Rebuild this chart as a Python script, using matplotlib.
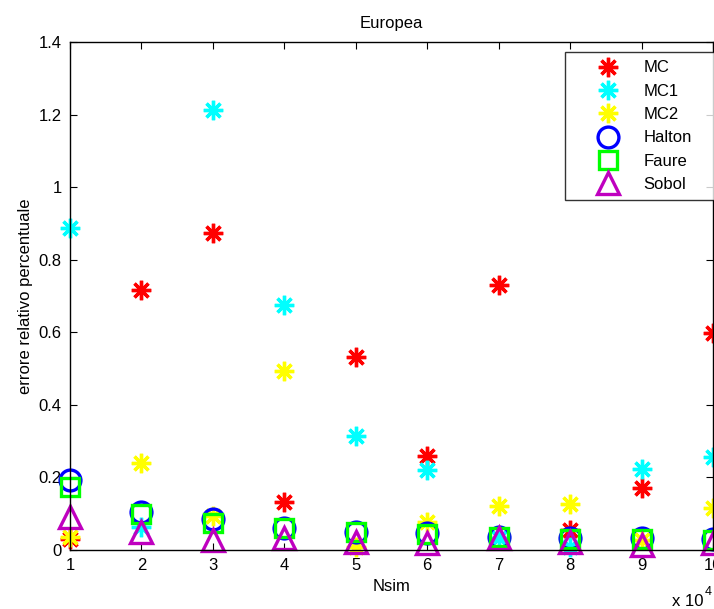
import matplotlib
matplotlib.use("Agg")
import matplotlib.pyplot as plt
import numpy as np

plt.rcParams['font.family'] = ['Liberation Sans', 'DejaVu Sans']

nsim = [1, 2, 3, 4, 5, 6, 7, 8, 9, 10]
mc = [0.03, 0.716, 0.873, 0.132, 0.532, 0.259, 0.730, 0.055, 0.171, 0.598]
mc1 = [0.887, 0.063, 1.212, 0.675, 0.314, 0.220, 0.033, 0.008, 0.223, 0.256]
mc2 = [0.035, 0.240, 0.095, 0.493, 0.008, 0.077, 0.121, 0.127, 0.028, 0.116]
halton = [0.193, 0.105, 0.085, 0.060, 0.050, 0.047, 0.037, 0.033, 0.032, 0.030]
faure = [0.174, 0.100, 0.074, 0.060, 0.050, 0.045, 0.035, 0.030, 0.030, 0.028]
sobol = [0.090, 0.050, 0.028, 0.032, 0.022, 0.020, 0.032, 0.022, 0.014, 0.020]

fig = plt.figure(figsize=(7.14, 6.09), dpi=100)
W, H = 714, 609
AX0, AX1, AY0, AY1 = 70, 713, 42, 550
ax = fig.add_axes([AX0 / W, (H - AY1) / H, (AX1 - AX0) / W, (AY1 - AY0) / H])

star = (8, 2, 0)
kw = dict(linestyle='none', clip_on=False, markeredgewidth=2.4, markerfacecolor='none')
ax.plot(nsim, mc, marker=star, color='#ff0000', markersize=14, label='MC', **kw)
ax.plot(nsim, mc1, marker=star, color='#00ffff', markersize=14, label='MC1', **kw)
ax.plot(nsim, mc2, marker=star, color='#ffff00', markersize=14, label='MC2', **kw)
ax.plot(nsim, halton, marker='o', color='#0000ff', markersize=15, label='Halton', **kw)
ax.plot(nsim, faure, marker='s', color='#00ff00', markersize=13, label='Faure', **kw)
ax.plot(nsim, sobol, marker='^', color='#bf00bf', markersize=16, label='Sobol', **kw)

ax.set_xlim(1, 10)
ax.set_ylim(0, 1.4)
ax.set_xticks(nsim)
ax.set_xticklabels([str(v) for v in nsim])
yt = [0, 0.2, 0.4, 0.6, 0.8, 1.0, 1.2, 1.4]
ax.set_yticks(yt)
ax.set_yticklabels(['0', '0.2', '0.4', '0.6', '0.8', '1', '1.2', '1.4'])
ax.tick_params(direction='in', length=5, width=0.8, labelsize=12, top=True, right=True, pad=6)
for s in ax.spines.values():
    s.set_linewidth(1.0)

ax.set_title('Europea', fontsize=12, pad=10)
ax.set_xlabel('Nsim', fontsize=12, labelpad=4)
ax.set_ylabel('errore relativo percentuale', fontsize=12, labelpad=4)
fig.text(704 / W, 1 - 602 / H, 'x 10', fontsize=12, ha='right', va='center')
fig.text(704.5 / W, 1 - 592 / H, '4', fontsize=9, ha='left', va='center')

aw, ah = AX1 - AX0, AY1 - AY0
lx0, lx1 = 565, 718
ly0 = 52
leg = ax.legend(loc='upper left',
                bbox_to_anchor=((lx0 - AX0) / aw, 1 - (ly0 - AY0) / ah, (lx1 - lx0) / aw, 0.0),
                mode='expand', fontsize=12,
                frameon=True, fancybox=False, edgecolor='black', borderpad=0.5,
                labelspacing=0.5, handlelength=4.1, handletextpad=0.1, borderaxespad=0.0)
leg.get_frame().set_linewidth(1.0)

fig.savefig('out.png', dpi=100)
